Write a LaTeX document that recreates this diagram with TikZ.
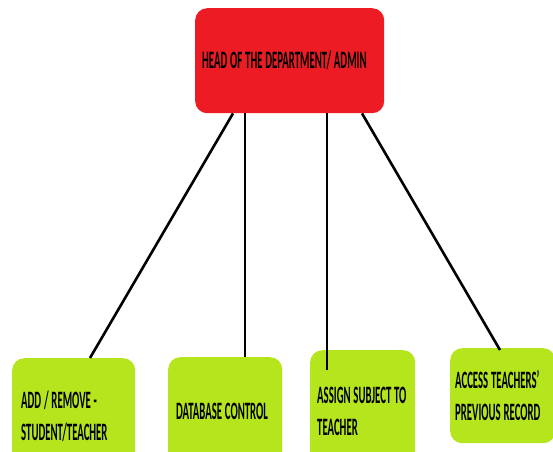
\documentclass[tikz,border=0pt]{standalone}
\usepackage{fontspec}
\setmainfont{Carlito}[FakeStretch=0.43]
\definecolor{headred}{HTML}{ED1C24}
\definecolor{taskgreen}{HTML}{B5E61D}
\newcommand\boxfont{\fontsize{25}{32}\selectfont\bfseries\spaceskip=2.8pt\relax}

\begin{document}
\begin{tikzpicture}
  [x=1pt,y=-1pt,
    every node/.style={anchor=north west,align=flush left,rounded corners=12pt,inner ysep=0pt,
      font=\boxfont},
    head/.style={fill=headred,inner xsep=7pt,text width=175pt,minimum height=105pt},
    task/.style={fill=taskgreen,inner xsep=8pt},
    link/.style={line width=2.6pt},
]
  \useasboundingbox (0,0) rectangle (553,451);
  \clip (0,0) rectangle (553,451);
  \node[head] (head) at (195,8) {\mbox{HEAD OF THE DEPARTMENT/ ADMIN}};
  \node[task,text width=105pt,minimum height=116pt,inner xsep=9pt] (addremove) at (12,358)
    {\mbox{ADD / REMOVE -}\\\mbox{STUDENT/TEACHER}};
  \node[task,text width=98pt,minimum height=108pt] (database) at (168,357)
    {\mbox{DATABASE CONTROL}};
  \node[task,text width=91pt,minimum height=122pt,inner xsep=7pt] (assign) at (310,350)
    {\mbox{ASSIGN SUBJECT TO}\\\mbox{TEACHER}};
  \node[task,text width=95pt,minimum height=95pt,inner xsep=5pt] (access) at (450,348)
    {\mbox{ACCESS TEACHERS'}\\\mbox{PREVIOUS RECORD}};

  \draw[link] ([xshift=38pt]head.south west) -- ([xshift=78pt]addremove.north west);
  \draw[link] ([xshift=50pt]head.south west) -- ([xshift=77pt]database.north west);
  \draw[link] ([xshift=132pt]head.south west) -- ([xshift=17pt,yshift=-20pt]assign.north west);
  \draw[link] ([xshift=167pt]head.south west) -- ([xshift=50pt,yshift=-2pt]access.north west);
\end{tikzpicture}
\end{document}
